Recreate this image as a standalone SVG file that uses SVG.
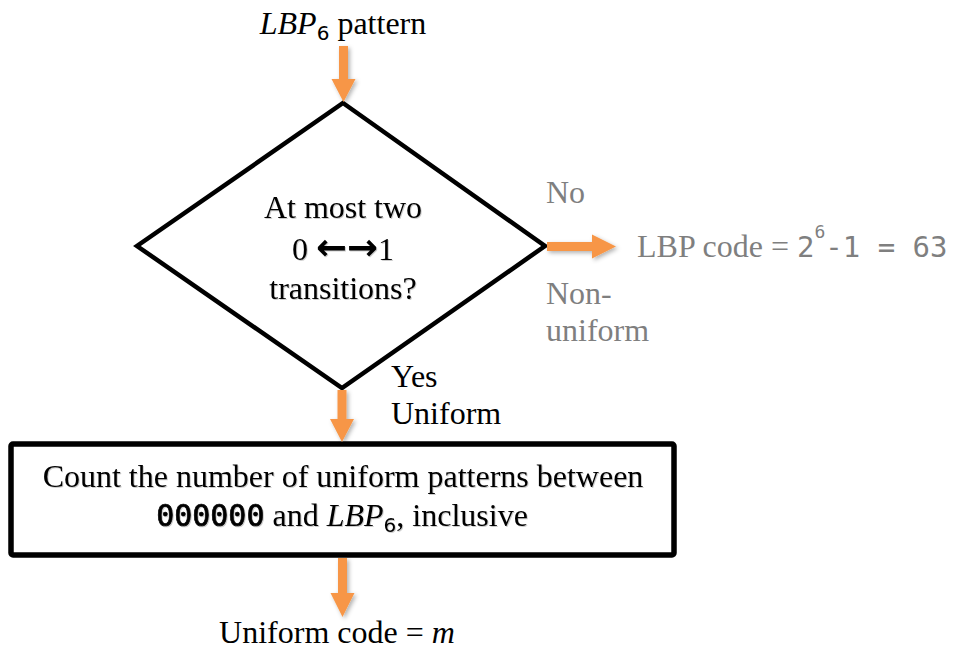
<svg xmlns="http://www.w3.org/2000/svg" width="953" height="653" viewBox="0 0 953 653">
  <style>
    .serif { font-family: "Liberation Serif", "Times New Roman", serif; font-size: 32px; fill: #000; }
    .gray { fill: #7f7f7f; }
    .mono { font-family: "DejaVu Sans Mono", "Liberation Mono", monospace; }
    .math { font-style: italic; }
    .sub { font-family: "DejaVu Sans", sans-serif; font-size: 20px; }
    .shape { fill: #fff; stroke: #000; }
    .arrow { fill: #f79646; filter: url(#shadow); }
    .tshadow { filter: url(#tshadow); }
  </style>
  <defs>
    <filter id="shadow" x="-50%" y="-50%" width="200%" height="200%">
      <feDropShadow dx="2" dy="2" stdDeviation="2" flood-color="#000" flood-opacity="0.3"/>
    </filter>
    <filter id="tshadow" x="-10%" y="-20%" width="120%" height="140%">
      <feDropShadow dx="1" dy="1" stdDeviation="0.6" flood-color="#000" flood-opacity="0.2"/>
    </filter>
  </defs>

  <rect width="953" height="653" fill="#fff"/>

  <!-- input label -->
  <g id="input">
    <text class="serif" x="343" y="34" text-anchor="middle"><tspan class="math">LBP</tspan><tspan class="sub" dy="6">6</tspan><tspan dy="-6"> pattern</tspan></text>
  </g>

  <!-- decision: uniformity test -->
  <g id="decision">
    <polygon class="shape" points="343,103 545,246 342,388 137,246" stroke-width="4.5" stroke-linejoin="miter"/>
    <g class="tshadow">
      <text class="serif" x="343" y="218" text-anchor="middle">At most two</text>
      <text class="serif" x="343" y="260" text-anchor="middle">0 <tspan font-family="DejaVu Sans, sans-serif" font-weight="bold" font-size="37">←→</tspan>1</text>
      <text class="serif" x="343" y="299" text-anchor="middle">transitions?</text>
    </g>
  </g>

  <!-- non-uniform result -->
  <g id="nonuniform">
    <text class="serif gray" x="546" y="203">No</text>
    <text class="serif gray" x="546" y="304">Non-</text>
    <text class="serif gray" x="546" y="341">uniform</text>
    <text class="serif gray" x="637" y="257">LBP code = <tspan class="mono" font-size="29">2</tspan><tspan class="mono" font-size="18" dy="-19">6</tspan><tspan class="mono" font-size="29" dy="19">-1 = 63</tspan></text>
  </g>

  <!-- uniform branch label -->
  <g id="uniform-label">
    <text class="serif" x="391" y="387">Yes</text>
    <text class="serif" x="391" y="424">Uniform</text>
  </g>

  <!-- counting step -->
  <g id="count">
    <rect class="shape" x="11" y="444" width="663" height="111" rx="2" stroke-width="5.5"/>
    <g class="tshadow">
      <text class="serif" x="343" y="487" text-anchor="middle">Count the number of uniform patterns between</text>
      <text class="serif" x="342" y="526" text-anchor="middle"><tspan class="mono" font-size="30" stroke="#000" stroke-width="0.7">000000</tspan> and <tspan class="math">LBP</tspan><tspan class="sub" dy="6">6</tspan><tspan dy="-6">, inclusive</tspan></text>
    </g>
  </g>

  <!-- output label -->
  <g id="output">
    <text class="serif" x="337" y="643" text-anchor="middle">Uniform code = <tspan class="math">m</tspan></text>
  </g>

  <!-- connectors -->
  <g id="connectors">
    <polygon class="arrow" points="339,46 348,46 348,79 355.5,79 343.5,102 331.5,79 339,79"/>
    <polygon class="arrow" points="547,242 592,242 592,234.5 616,246.5 592,258.5 592,251 547,251"/>
    <polygon class="arrow" points="337.5,390 346.5,390 346.5,419 354,419 342,442 330,419 337.5,419"/>
    <polygon class="arrow" points="338,558 347,558 347,593 354.5,593 342.5,617 330.5,593 338,593"/>
  </g>
</svg>
